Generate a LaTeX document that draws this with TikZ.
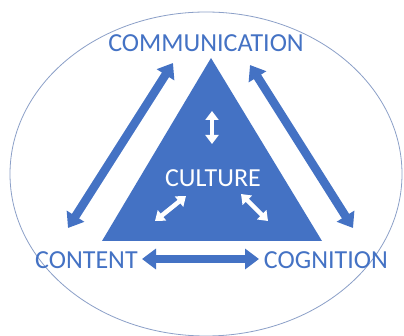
\documentclass[tikz,border=0pt]{standalone}
\usepackage{fontspec}
\setmainfont{Carlito}
\usetikzlibrary{arrows.meta}
\definecolor{obl}{RGB}{68,114,196}
\definecolor{ell}{RGB}{140,160,200}
\begin{document}
\begin{tikzpicture}[x=1pt,y=-1pt,
  lbl/.style={text=obl,font=\fontsize{26}{28}\selectfont,inner sep=0pt,anchor=center},
  bigarr/.style={draw=obl,line width=8.5pt,{Triangle[length=14pt,width=20pt]}-{Triangle[length=14pt,width=20pt]}},
  smallarr/.style={draw=white,line width=4.5pt,{Triangle[length=9pt,width=13pt]}-{Triangle[length=9pt,width=13pt]}}]
\useasboundingbox (0,0) rectangle (404,336);
\fill[white] (0,0) rectangle (404,336);
\draw[ell,line width=0.8pt] (206,174) ellipse [x radius=196,y radius=162];
\fill[obl] (211,58) -- (102,241) -- (322,241) -- cycle;
\node[lbl] (comm) at (206,43) {COMMUNICATION};
\node[lbl,anchor=west] (cont) at (35,260) {CONTENT};
\node[lbl,anchor=east] (cogn) at (388,260) {COGNITION};
\node[lbl,text=white] (cult) at (213,178) {CULTURE};
\coordinate (la) at (68,228); \coordinate (lb) at (173,63);
\coordinate (ra) at (250,65); \coordinate (rb) at (353,228);
\coordinate (ha) at (142,259); \coordinate (hb) at (259,259);
\draw[bigarr] (la) -- (lb);
\draw[bigarr] (ra) -- (rb);
\draw[bigarr] (ha) -- (hb);
\coordinate (va) at (212,111); \coordinate (vb) at (212,144);
\coordinate (sa) at (155,221); \coordinate (sb) at (186,196);
\coordinate (ta) at (241,194); \coordinate (tb) at (268,221);
\draw[smallarr] (va) -- (vb);
\draw[smallarr] (sa) -- (sb);
\draw[smallarr] (ta) -- (tb);
\end{tikzpicture}
\end{document}
